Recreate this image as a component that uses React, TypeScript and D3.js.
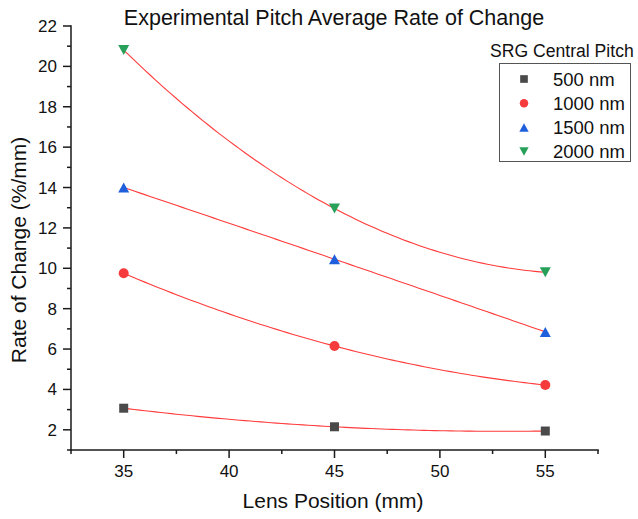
import React from "react";
import * as d3 from "d3";

const lensPositions = [35, 45, 55];
const seriesNames = ["500 nm", "1000 nm", "1500 nm", "2000 nm"];
const values500 = [3.07, 2.15, 1.94];
const values1000 = [9.75, 6.15, 4.22];
const values1500 = [14.0, 10.45, 6.85];
const values2000 = [20.81, 12.96, 9.8];
const seriesColors = ["#4a4a4a", "#f53b3b", "#1f5fdb", "#27a05a"];
const seriesSymbols = ["square", "circle", "triangleUp", "triangleDown"];
const xTicks = [35, 40, 45, 50, 55];
const xMinorTicks = [32.5, 37.5, 42.5, 47.5, 52.5, 57.5];
const yTicks = [2, 4, 6, 8, 10, 12, 14, 16, 18, 20, 22];
const yMinorTicks = [1, 3, 5, 7, 9, 11, 13, 15, 17, 19, 21];

const allValues = [values500, values1000, values1500, values2000];

const W = 638;
const H = 519;
const left = 71;
const right = 598;
const top = 26;
const bottom = 450;
const font = "'Liberation Sans', Arial, Helvetica, sans-serif";

const x = d3.scaleLinear().domain([32.5, 57.5]).range([left, right]);
const y = d3.scaleLinear().domain([1, 22]).range([bottom, top]);

// quadratic (order-2 polynomial) fit through the three points
function fitFn(xs: number[], ys: number[]) {
  return (t: number) => {
    let s = 0;
    for (let i = 0; i < 3; i++) {
      let l = 1;
      for (let j = 0; j < 3; j++) {
        if (j !== i) l *= (t - xs[j]) / (xs[i] - xs[j]);
      }
      s += ys[i] * l;
    }
    return s;
  };
}

function Marker({ kind, cx, cy, color, scale = 1 }: any) {
  if (kind === "square") {
    const s = 9 * scale;
    return <rect x={cx - s / 2} y={cy - s / 2} width={s} height={s} fill={color} />;
  }
  if (kind === "circle") {
    return <circle cx={cx} cy={cy} r={5 * scale} fill={color} />;
  }
  const w = 11 * scale;
  const h = 10 * scale;
  if (kind === "triangleUp") {
    const pts = `${cx - w / 2},${cy + h / 2} ${cx + w / 2},${cy + h / 2} ${cx},${cy - h / 2}`;
    return <polygon points={pts} fill={color} />;
  }
  const pts = `${cx - w / 2},${cy - h / 2} ${cx + w / 2},${cy - h / 2} ${cx},${cy + h / 2}`;
  return <polygon points={pts} fill={color} />;
}

export default function App() {
  const line = d3
    .line<number>()
    .x((d) => x(d))
    .y((d) => d);
  const sampleXs = d3.range(35, 55.001, 0.25);

  return (
    <svg width={W} height={H} style={{ position: "absolute", left: 0, top: 0, background: "#fff" }} fontFamily={font}>
      <rect x={0} y={0} width={W} height={H} fill="#fff" />
      <text x={334} y={25} textAnchor="middle" fontSize={21.5} fill="#111">
        Experimental Pitch Average Rate of Change
      </text>

      {/* fit curves */}
      {allValues.map((vals, i) => {
        const f = fitFn(lensPositions, vals);
        const pts = sampleXs.map((t) => [x(t), y(f(t))] as [number, number]);
        const path = d3.line()(pts);
        return <path key={"fit" + i} d={path || ""} fill="none" stroke="#ff3b3b" strokeWidth={1.1} />;
      })}

      {/* markers */}
      {allValues.map((vals, i) =>
        vals.map((v, j) => (
          <Marker key={`m${i}-${j}`} kind={seriesSymbols[i]} cx={x(lensPositions[j])} cy={y(v)} color={seriesColors[i]} />
        ))
      )}

      {/* axes */}
      <line x1={left} x2={left} y1={top - 0.75} y2={bottom + 0.75} stroke="#1a1a1a" strokeWidth={1.5} />
      <line x1={left - 0.75} x2={right + 0.75} y1={bottom} y2={bottom} stroke="#1a1a1a" strokeWidth={1.5} />
      {yTicks.map((t) => (
        <g key={"yt" + t}>
          <line x1={left - 8} x2={left} y1={y(t)} y2={y(t)} stroke="#1a1a1a" strokeWidth={1.5} />
          <text x={left - 14} y={y(t) + 6} textAnchor="end" fontSize={17} fill="#111">
            {t}
          </text>
        </g>
      ))}
      {yMinorTicks.map((t) => (
        <line key={"ym" + t} x1={left - 4} x2={left} y1={y(t)} y2={y(t)} stroke="#1a1a1a" strokeWidth={1.5} />
      ))}
      {xTicks.map((t) => (
        <g key={"xt" + t}>
          <line x1={x(t)} x2={x(t)} y1={bottom} y2={bottom + 8} stroke="#1a1a1a" strokeWidth={1.5} />
          <text x={x(t)} y={477} textAnchor="middle" fontSize={17} fill="#111">
            {t}
          </text>
        </g>
      ))}
      {xMinorTicks.map((t) => (
        <line key={"xm" + t} x1={x(t)} x2={x(t)} y1={bottom} y2={bottom + 4} stroke="#1a1a1a" strokeWidth={1.5} />
      ))}

      <text x={333} y={508} textAnchor="middle" fontSize={21} fill="#111">
        Lens Position (mm)
      </text>
      <text transform="translate(26,250) rotate(-90)" textAnchor="middle" fontSize={21} fill="#111">
        Rate of Change (%/mm)
      </text>

      {/* legend */}
      <text x={490} y={57} fontSize={17.6} fill="#111">
        SRG Central Pitch
      </text>
      <rect x={499.5} y={63.5} width={131} height={98} fill="none" stroke="#555" strokeWidth={1} />
      {seriesNames.map((name, i) => {
        const cy = 79 + i * 24.2;
        return (
          <g key={"lg" + i}>
            <Marker kind={seriesSymbols[i]} cx={524} cy={cy} color={seriesColors[i]} scale={0.85} />
            <text x={553} y={cy + 6.5} fontSize={18.5} fill="#111">
              {name}
            </text>
          </g>
        );
      })}
    </svg>
  );
}
